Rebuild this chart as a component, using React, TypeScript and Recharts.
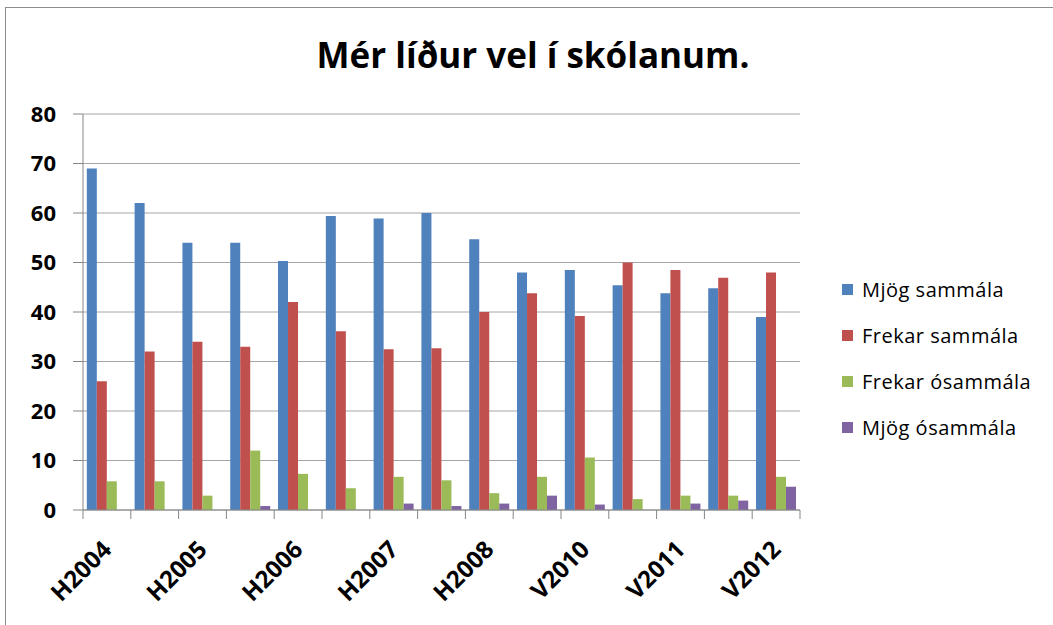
import { Bar, BarChart, CartesianGrid, Legend, XAxis, YAxis } from "recharts";

// Survey rounds (H = haust, V = vor); only every other label is printed
const categories = [
  "H2004", "V2005", "H2005", "V2006", "H2006", "V2007", "H2007", "V2008",
  "H2008", "V2009", "V2010", "H2010", "V2011", "H2011", "V2012",
];

const mjogSammala = [69, 62, 54, 54, 50.3, 59.4, 58.9, 60, 54.7, 48, 48.5, 45.4, 43.8, 44.8, 39];
const frekarSammala = [26, 32, 34, 33, 42, 36.1, 32.5, 32.7, 40, 43.8, 39.2, 50, 48.5, 46.9, 48];
const frekarOsammala = [5.8, 5.8, 2.9, 12, 7.3, 4.4, 6.7, 6, 3.4, 6.7, 10.6, 2.2, 2.9, 2.9, 6.7];
const mjogOsammala = [0, 0, 0, 0.8, 0, 0, 1.3, 0.8, 1.3, 2.9, 1.1, 0, 1.3, 1.9, 4.7];

const yTicks = [0, 10, 20, 30, 40, 50, 60, 70, 80];

const SERIES = [
  { key: "mjogSammala", name: "Mjög sammála", color: "#4f81bd" },
  { key: "frekarSammala", name: "Frekar sammála", color: "#c0504d" },
  { key: "frekarOsammala", name: "Frekar ósammála", color: "#9bbb59" },
  { key: "mjogOsammala", name: "Mjög ósammála", color: "#8064a2" },
];

const data = categories.map((cat, i) => ({
  cat,
  mjogSammala: mjogSammala[i],
  frekarSammala: frekarSammala[i],
  frekarOsammala: frekarOsammala[i],
  mjogOsammala: mjogOsammala[i],
}));

const FONT = "'Open Sans', 'DejaVu Sans', sans-serif";
const PLOT_LEFT = 83;
const PLOT_RIGHT = 800;
const BAND = (PLOT_RIGHT - PLOT_LEFT) / categories.length;

// category ticks sit on the band edges (Excel style), labels on every other band
function CategoryTick(props: any) {
  const { x, y, payload, index } = props;
  const i = payload?.index ?? index;
  const edge = x - BAND / 2;
  const tx = x + 6;
  const ty = y + 41;
  return (
    <g>
      <line x1={edge} y1={y} x2={edge} y2={y + 9} stroke="#868686" />
      {i === categories.length - 1 && (
        <line x1={x + BAND / 2} y1={y} x2={x + BAND / 2} y2={y + 9} stroke="#868686" />
      )}
      {i % 2 === 0 && (
        <text
          x={tx}
          y={ty}
          textAnchor="end"
          transform={`rotate(-45, ${tx}, ${ty})`}
          fontFamily={FONT}
          fontWeight={700}
          fontSize={24}
          fill="#000"
        >
          {payload.value}
        </text>
      )}
    </g>
  );
}

function LegendList() {
  return (
    <div style={{ fontFamily: FONT }}>
      {SERIES.map((s) => (
        <div
          key={s.key}
          style={{ display: "flex", alignItems: "center", height: 46 }}
        >
          <span
            style={{
              display: "inline-block",
              width: 11,
              height: 11,
              backgroundColor: s.color,
              marginRight: 9,
            }}
          />
          <span style={{ fontSize: 20, letterSpacing: 0.5, color: "#000", whiteSpace: "nowrap" }}>
            {s.name}
          </span>
        </div>
      ))}
    </div>
  );
}

export default function App() {
  return (
    <div
      style={{
        position: "absolute",
        left: 0,
        top: 0,
        width: 1053,
        height: 625,
        overflow: "hidden",
        background: "#fff",
      }}
    >
      {/* chart frame, only top and left edges visible in the crop */}
      <div
        style={{
          position: "absolute",
          left: 5,
          top: 7,
          width: 1200,
          height: 800,
          border: "1px solid #8c8c8c",
        }}
      />
      <div
        style={{
          position: "absolute",
          left: 0,
          top: 37,
          width: 1066,
          textAlign: "center",
          fontFamily: FONT,
          fontWeight: 700,
          fontSize: 35,
          lineHeight: "35px",
          color: "#000",
        }}
      >
        Mér líður vel í skólanum.
      </div>
      <div style={{ position: "absolute", left: 0, top: 0 }}>
        <BarChart
          width={1053}
          height={625}
          data={data}
          margin={{ top: 114, right: 1053 - PLOT_RIGHT, bottom: 15, left: PLOT_LEFT - 60 }}
          barCategoryGap="8%"
          barGap={0}
        >
          <CartesianGrid vertical={false} stroke="#a6a6a6" />
          <XAxis
            dataKey="cat"
            height={100}
            interval={0}
            tickLine={false}
            tickSize={0}
            tickMargin={0}
            axisLine={{ stroke: "#868686" }}
            tick={<CategoryTick />}
          />
          <YAxis
            width={60}
            domain={[0, 80]}
            ticks={yTicks}
            interval={0}
            tickSize={10}
            tickMargin={17}
            axisLine={{ stroke: "#868686" }}
            tickLine={{ stroke: "#868686" }}
            tick={{ fontFamily: FONT, fontWeight: 700, fontSize: 22, fill: "#000" }}
          />
          <Legend
            layout="vertical"
            align="center"
            verticalAlign="middle"
            wrapperStyle={{ left: 842, top: 266, width: 211 }}
            content={() => <LegendList />}
          />
          {SERIES.map((s) => (
            <Bar
              key={s.key}
              dataKey={s.key}
              name={s.name}
              fill={s.color}
              isAnimationActive={false}
            />
          ))}
        </BarChart>
      </div>
    </div>
  );
}
